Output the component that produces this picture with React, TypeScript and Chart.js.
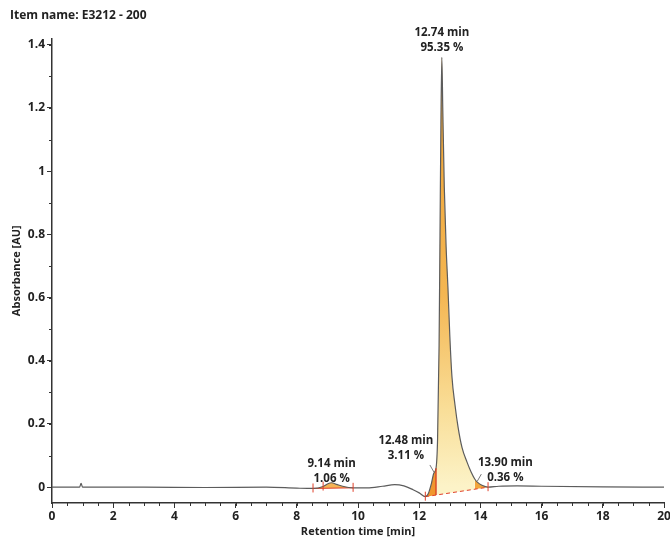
import React, { useEffect, useRef } from "react";
import { Chart, registerables } from "chart.js";

Chart.register(...registerables);

const chartTitle = "Item name: E3212 - 200";
const xTitle = "Retention time [min]";
const yTitle = "Absorbance [AU]";
const xTicks = [0, 2, 4, 6, 8, 10, 12, 14, 16, 18, 20];
const yTicks = [0, 0.2, 0.4, 0.6, 0.8, 1, 1.2, 1.4];

const time = [0, 0.9, 0.95, 1.0, 1.1, 3, 5, 7, 8.0, 8.53, 8.86, 9.0, 9.14, 9.3, 9.5, 9.84, 10.3, 10.8, 11.2, 11.5, 11.8, 12.0, 12.2, 12.3, 12.4, 12.48, 12.55, 12.6, 12.65, 12.68, 12.71, 12.74, 12.77, 12.82, 12.88, 12.94, 13.0, 13.07, 13.17, 13.27, 13.4, 13.56, 13.7, 13.82, 13.9, 14.05, 14.25, 14.6, 15.2, 16, 18, 20];
const absorbance = [0, 0, 0.012, 0, 0, 0, -0.001, 0, -0.003, -0.004, 0.002, 0.01, 0.014, 0.009, 0.003, -0.002, -0.002, 0.003, 0.008, 0.004, -0.008, -0.018, -0.03, -0.02, 0.012, 0.045, 0.06, 0.15, 0.45, 0.8, 1.15, 1.36, 1.2, 0.95, 0.76, 0.63, 0.48, 0.35, 0.26, 0.19, 0.125, 0.08, 0.047, 0.025, 0.016, 0.006, 0.0, 0.003, 0.004, 0.003, 0.001, 0];

const peakTimes = [9.14, 12.48, 12.74, 13.9];
const peakAreas = [1.06, 3.11, 95.35, 0.36];

const mainBaselineTimes = [12.2, 14.25];
const mainBaselineValues = [-0.03, 0.0];
const minorBaselineTimes = [8.53, 9.84];
const minorBaselineValues = [-0.004, -0.002];
const peakBounds = [8.53, 8.86, 9.84, 12.2, 14.25];
const peakSplit = 12.55;
const mainRange = [12.55, 13.82];
const shoulderRange = [12.2, 12.55];
const tailRange = [13.82, 14.25];
const minorRange = [8.53, 9.84];

// label pixel offsets (layout only)
const labelOffsets = [
  { dx: 0, dy: -5 },
  { dx: -28, dy: -18 },
  { dx: 0, dy: -11 },
  { dx: 28, dy: -5 },
];

const FONT = "'Open Sans', 'Noto Sans', sans-serif";
const TEXT = "#222";

const trace = time.map((t, i) => ({ x: t, y: absorbance[i] }));
const sub = (r: number[]) => trace.filter((p) => p.x >= r[0] - 1e-9 && p.x <= r[1] + 1e-9);

const annotPlugin = {
  id: "annot",
  afterDatasetsDraw(chart: any) {
    const { ctx, scales, chartArea } = chart;
    const xs = scales.x;
    const ys = scales.y;
    const valAt = (t: number) => {
      for (let i = 0; i < time.length - 1; i++) {
        if (t >= time[i] && t <= time[i + 1]) {
          const f = (t - time[i]) / (time[i + 1] - time[i]);
          return absorbance[i] + f * (absorbance[i + 1] - absorbance[i]);
        }
      }
      return 0;
    };
    ctx.save();
    // red boundary ticks
    ctx.strokeStyle = "#e0402a";
    ctx.lineWidth = 1;
    peakBounds.forEach((t) => {
      const v = valAt(t);
      const px = xs.getPixelForValue(t);
      ctx.beginPath();
      ctx.moveTo(px, ys.getPixelForValue(v) + 4);
      ctx.lineTo(px, ys.getPixelForValue(v) - 5);
      ctx.stroke();
    });
    // drop line at split
    {
      const f = (peakSplit - mainBaselineTimes[0]) / (mainBaselineTimes[1] - mainBaselineTimes[0]);
      const b = mainBaselineValues[0] + f * (mainBaselineValues[1] - mainBaselineValues[0]);
      const px = xs.getPixelForValue(peakSplit);
      ctx.strokeStyle = "#d83a20";
      ctx.lineWidth = 1.3;
      ctx.beginPath();
      ctx.moveTo(px, ys.getPixelForValue(b));
      ctx.lineTo(px, ys.getPixelForValue(valAt(peakSplit)));
      ctx.stroke();
    }
    // labels
    ctx.fillStyle = TEXT;
    ctx.font = `bold 11.5px ${FONT}`;
    ctx.textAlign = "center";
    ctx.textBaseline = "middle";
    peakTimes.forEach((t, i) => {
      const ax = xs.getPixelForValue(t);
      const ay = ys.getPixelForValue(valAt(t));
      const o = labelOffsets[i];
      const cx = ax + o.dx;
      const cy2 = ay + o.dy + 1;
      ctx.fillText(`${t.toFixed(2)} min`, cx, cy2 - 15);
      ctx.fillText(`${peakAreas[i].toFixed(2)} %`, cx, cy2);
      if (o.dx !== 0) {
        ctx.strokeStyle = "#555";
        ctx.lineWidth = 0.8;
        ctx.beginPath();
        const sx = o.dx < 0 ? ax - 4 : ax + 4;
        ctx.moveTo(sx, ay - 8);
        ctx.lineTo(ax, ay - 1);
        ctx.stroke();
      }
    });
    // minor ticks
    ctx.strokeStyle = "#333";
    ctx.lineWidth = 1;
    for (let v = 0; v <= 20.001; v += 0.5) {
      const px = Math.round(xs.getPixelForValue(v)) + 0.5;
      ctx.beginPath();
      ctx.moveTo(px, chartArea.bottom);
      ctx.lineTo(px, chartArea.bottom + 3);
      ctx.stroke();
    }
    for (let v = 0; v <= 1.4001; v += 0.1) {
      const py = Math.round(ys.getPixelForValue(v)) + 0.5;
      ctx.beginPath();
      ctx.moveTo(chartArea.left, py);
      ctx.lineTo(chartArea.left - 3, py);
      ctx.stroke();
    }
    ctx.restore();
  },
};

export default function App() {
  const ref = useRef<HTMLCanvasElement>(null);
  useEffect(() => {
    document.body.style.margin = "0";
    const canvas = ref.current!;
    const grad = (context: any) => {
      const chart = context.chart;
      const { ctx, chartArea, scales } = chart;
      if (!chartArea || !scales.y) return "rgba(245,190,90,0.9)";
      const top = scales.y.getPixelForValue(1.36);
      const bot = scales.y.getPixelForValue(0);
      const g = ctx.createLinearGradient(0, top, 0, bot);
      g.addColorStop(0, "rgb(238,160,48)");
      g.addColorStop(0.55, "rgb(244,182,82)");
      g.addColorStop(0.82, "rgb(249,222,152)");
      g.addColorStop(1, "rgb(252,243,200)");
      return g;
    };
    const common = { pointRadius: 0, cubicInterpolationMode: "monotone" as const };
    const chart = new Chart(canvas, {
      type: "line",
      data: {
        datasets: [
          { ...common, data: trace, borderColor: "#5c5c5c", borderWidth: 1.2, fill: false, order: 0 },
          {
            pointRadius: 0,
            data: mainBaselineTimes.map((t, i) => ({ x: t, y: mainBaselineValues[i] })),
            borderColor: "#e0402a",
            borderWidth: 1,
            borderDash: [4, 3],
            fill: false,
            order: 1,
          },
          { ...common, data: sub(mainRange), borderWidth: 0, borderColor: "rgba(0,0,0,0)", backgroundColor: grad, fill: 1, order: 5 },
          { ...common, data: sub(shoulderRange), borderWidth: 0, borderColor: "rgba(0,0,0,0)", backgroundColor: "rgb(240,150,45)", fill: 1, order: 5 },
          { ...common, data: sub(tailRange), borderWidth: 0, borderColor: "rgba(0,0,0,0)", backgroundColor: "rgb(242,165,60)", fill: 1, order: 5 },
          {
            pointRadius: 0,
            data: minorBaselineTimes.map((t, i) => ({ x: t, y: minorBaselineValues[i] })),
            borderColor: "#e0402a",
            borderWidth: 1,
            fill: false,
            order: 1,
          },
          { ...common, data: sub(minorRange), borderWidth: 0, borderColor: "rgba(0,0,0,0)", backgroundColor: "rgb(245,180,85)", fill: 5, order: 5 },
        ],
      },
      options: {
        animation: false,
        responsive: true,
        maintainAspectRatio: false,
        layout: { padding: { left: 10, right: 6, top: 0, bottom: 0 } },
        plugins: {
          legend: { display: false },
          tooltip: { enabled: false },
          title: {
            display: true,
            text: chartTitle,
            align: "start",
            color: TEXT,
            font: { family: FONT, size: 12, weight: "bold" },
            padding: { top: 8, bottom: 16 },
          },
        },
        scales: {
          x: {
            type: "linear",
            min: 0,
            max: 20,
            afterBuildTicks: (s: any) => {
              s.ticks = xTicks.map((v) => ({ value: v }));
            },
            afterFit: (s: any) => {
              s.paddingRight = 0;
              s.height = 35;
            },
            grid: { drawOnChartArea: false, drawTicks: true, tickLength: 5, color: "#333" },
            border: { color: "#333", width: 1.5 },
            ticks: { color: TEXT, font: { family: FONT, size: 12, weight: "bold" }, padding: 1, maxRotation: 0, callback: (v: any) => String(v) },
            title: { display: true, text: xTitle, color: TEXT, font: { family: FONT, size: 11, weight: "bold" }, padding: { top: 0, bottom: 0 } },
          },
          y: {
            type: "linear",
            min: -0.05,
            max: 1.42,
            afterBuildTicks: (s: any) => {
              s.ticks = yTicks.map((v) => ({ value: v }));
            },
            afterFit: (s: any) => {
              s.width = 42;
            },
            grid: { drawOnChartArea: false, drawTicks: true, tickLength: 5, color: "#333" },
            border: { color: "#333", width: 1.5 },
            ticks: { color: TEXT, font: { family: FONT, size: 12, weight: "bold" }, padding: 2, callback: (v: any) => String(v) },
            title: { display: true, text: yTitle, color: TEXT, font: { family: FONT, size: 11, weight: "bold" }, padding: { top: 0, bottom: 2 } },
          },
        },
      },
      plugins: [annotPlugin],
    });
    return () => chart.destroy();
  }, []);
  return (
    <div style={{ position: "fixed", left: 0, top: 0, width: 670, height: 538, background: "#fff" }}>
      <canvas ref={ref} />
    </div>
  );
}
